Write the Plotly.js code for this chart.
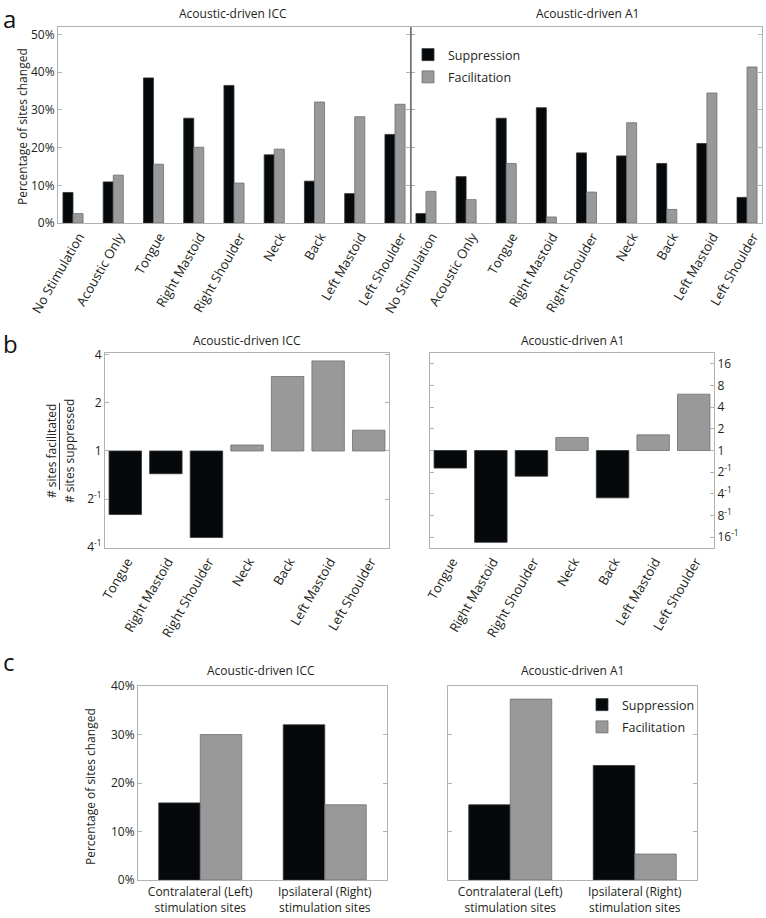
<!DOCTYPE html>
<html><head><meta charset="utf-8">
<script src="https://cdn.plot.ly/plotly-3.0.1.min.js"></script>
<style>body{margin:0;background:#fff}#chart{width:766px;height:918px}</style>
</head><body><div id="chart"></div>
<script>
// ---------- data ----------
const sitesA = ['No Stimulation','Acoustic Only','Tongue','Right Mastoid','Right Shoulder','Neck','Back','Left Mastoid','Left Shoulder'];
const iccSupA = [8.1,10.9,38.5,27.8,36.5,18.1,11.1,7.8,23.5];
const iccFacA = [2.5,12.7,15.6,20.1,10.6,19.6,32.1,28.2,31.5];
const a1SupA = [2.5,12.3,27.8,30.6,18.6,17.8,15.8,21.1,6.8];
const a1FacA = [8.4,6.2,15.8,1.6,8.2,26.6,3.6,34.5,41.4];

const sitesB = ['Tongue','Right Mastoid','Right Shoulder','Neck','Back','Left Mastoid','Left Shoulder'];
const iccRatioB = [0.40,0.72,0.287,1.09,2.93,3.67,1.35];
const a1RatioB = [0.57,0.053,0.44,1.52,0.22,1.65,6.06];

const sideC = ['Contralateral (Left)<br>stimulation sites','Ipsilateral (Right)<br>stimulation sites'];
const iccSupC = [15.9,32.0];
const iccFacC = [30.0,15.5];
const a1SupC = [15.5,23.6];
const a1FacC = [37.3,5.35];

const pctTicks = [0,10,20,30,40,50];
const pctTickText = ['0%','10%','20%','30%','40%','50%'];
const ratioTicksICC = [0.25,0.5,1,2,4];
const ratioTextICC = ['4<sup>-1</sup>','2<sup>-1</sup>','1','2','4'];
const ratioTicksA1 = [1/16,1/8,1/4,1/2,1,2,4,8,16];
const ratioTextA1 = ['16<sup>-1</sup>','8<sup>-1</sup>','4<sup>-1</sup>','2<sup>-1</sup>','1','2','4','8','16'];

// ---------- styling ----------
const W = 766, H = 918;
const FONT = 'Open Sans, Lato, sans-serif';
const TXT = '#231f20';
const BLACK = '#06090b', GRAY = '#999999';
const BLACK_LINE = '#333333', GRAY_LINE = '#6e6e6e';
const AX = '#b2b2b2';
const dx = (a,b) => [a/W, b/W];
const dy = (t,b) => [1-b/H, 1-t/H];
const px = v => v/W, py = v => 1-v/H;

function sup(x, y, xa, ya, w, off, legend, show) {
  return {type:'bar', name:'Suppression', x, y, xaxis:xa, yaxis:ya, width:w, offset:off, legendgroup:'s',
    marker:{color:BLACK, line:{color:BLACK_LINE, width:0.8}}, legend:legend, showlegend:show, hoverinfo:'y'};
}
function fac(x, y, xa, ya, w, off, legend, show) {
  return {type:'bar', name:'Facilitation', x, y, xaxis:xa, yaxis:ya, width:w, offset:off, legendgroup:'f',
    marker:{color:GRAY, line:{color:GRAY_LINE, width:0.8}}, legend:legend, showlegend:show, hoverinfo:'y'};
}
function ratioBar(x, r, xa, ya) {
  return {type:'bar', x, y:r.map(v => v-1), base:1, xaxis:xa, yaxis:ya, width:0.8,
    marker:{color:r.map(v => v<1?BLACK:GRAY), line:{color:r.map(v => v<1?BLACK_LINE:GRAY_LINE), width:0.8}},
    showlegend:false, hoverinfo:'x'};
}

const idxA = sitesA.map((_,i)=>i);
const idxB = sitesB.map((_,i)=>i);
const idxC = sideC.map((_,i)=>i);

const data = [
  sup(idxA, iccSupA, 'x', 'y', 0.25, -0.25, 'legend', false),
  fac(idxA, iccFacA, 'x', 'y', 0.25, 0, 'legend', false),
  sup(idxA, a1SupA, 'x2', 'y2', 0.25, -0.25, 'legend', true),
  fac(idxA, a1FacA, 'x2', 'y2', 0.25, 0, 'legend', true),
  ratioBar(idxB, iccRatioB, 'x3', 'y3'),
  ratioBar(idxB, a1RatioB, 'x4', 'y4'),
  sup(idxC, iccSupC, 'x5', 'y5', 1/3, -1/3, 'legend2', false),
  fac(idxC, iccFacC, 'x5', 'y5', 1/3, 0, 'legend2', false),
  sup(idxC, a1SupC, 'x6', 'y6', 1/3, -1/3, 'legend2', true),
  fac(idxC, a1FacC, 'x6', 'y6', 1/3, 0, 'legend2', true)
];

const tickFont = {family:FONT, size:12, color:TXT};
const rotFont = {family:FONT, size:13, color:TXT};
function xcat(domain, anchor, labels, range, angle, shift, font, standoff) {
  return {domain, anchor, range, tickvals:labels.map((_,i)=>i), ticktext:labels, tickangle:angle,
    ticklabelshift:shift, ticklabelstandoff:standoff,
    showline:true, mirror:true, linecolor:AX, linewidth:1, ticks:'', showgrid:false, zeroline:false,
    tickfont:font, fixedrange:true};
}
function yax(domain, anchor, extra) {
  return Object.assign({domain, anchor, showline:true, mirror:'ticks', linecolor:AX, linewidth:1,
    ticks:'inside', ticklen:4, tickcolor:AX, showgrid:false, zeroline:false, tickfont:tickFont, fixedrange:true}, extra);
}
const L2 = Math.log10(2);
const legFont = {family:FONT, size:12.5, color:TXT};
function ann(text, x, y, extra) {
  return Object.assign({text, x:px(x), y:py(y), xref:'paper', yref:'paper', xanchor:'center', yanchor:'middle',
    showarrow:false, font:{family:FONT, size:12, color:TXT}}, extra || {});
}

const layout = {
  width:W, height:H, margin:{l:0,r:0,t:0,b:0}, paper_bgcolor:'#fff', plot_bgcolor:'#fff',
  font:{family:FONT, color:TXT}, barmode:'overlay',
  xaxis: xcat(dx(58,410), 'y', sitesA, [-0.373, 8.373], -60, 6, rotFont, 0),
  yaxis: yax(dy(27,223), 'x', {range:[0,52], tickvals:pctTicks, ticktext:pctTickText}),
  xaxis2: xcat(dx(411,762), 'y2', sitesA, [-0.373, 8.373], -60, 6, rotFont, 0),
  yaxis2: yax(dy(27,223), 'x2', {range:[0,52], tickvals:pctTicks, showticklabels:false}),
  xaxis3: xcat(dx(105,389), 'y3', sitesB, [-0.5, 6.5], -60, 2, rotFont, 0),
  yaxis3: yax(dy(353,548), 'x3', {type:'log', range:[Math.log10(0.25)-0.006, Math.log10(4)+0.012], tickvals:ratioTicksICC, ticktext:ratioTextICC}),
  xaxis4: xcat(dx(430,714), 'y4', sitesB, [-0.5, 6.5], -60, 2, rotFont, 0),
  yaxis4: yax(dy(353,548), 'x4', {type:'log', side:'right', range:[-4.5*L2, 4.5*L2], tickvals:ratioTicksA1, ticktext:ratioTextA1}),
  xaxis5: xcat(dx(138,387), 'y5', sideC, [-0.5, 1.5], 0, 0, tickFont, 1),
  yaxis5: yax(dy(686,880), 'x5', {range:[0,40], tickvals:pctTicks.slice(0,5), ticktext:pctTickText.slice(0,5)}),
  xaxis6: xcat(dx(448,697), 'y6', sideC, [-0.5, 1.5], 0, 0, tickFont, 1),
  yaxis6: yax(dy(686,880), 'x6', {range:[0,40], tickvals:pctTicks.slice(0,5), showticklabels:false}),
  legend: {x:px(408), y:py(40), xanchor:'left', yanchor:'top', bgcolor:'rgba(0,0,0,0)', font:legFont, traceorder:'grouped', tracegroupgap:3},
  legend2: {x:px(582), y:py(690), xanchor:'left', yanchor:'top', bgcolor:'rgba(0,0,0,0)', font:legFont, traceorder:'grouped', tracegroupgap:3},
  shapes: [
    {type:'line', xref:'paper', yref:'paper', x0:px(411), x1:px(411), y0:py(223), y1:py(27), line:{color:'#333', width:1}},
    {type:'line', xref:'paper', yref:'paper', x0:px(59.5), x1:px(59.5), y0:py(403), y1:py(490), line:{color:'#333', width:1}}
  ],
  annotations: [
    ann('a', 1, 0, {xanchor:'left', yanchor:'top', font:{family:FONT, size:24, color:'#111'}}),
    ann('b', 1, 325, {xanchor:'left', yanchor:'top', font:{family:FONT, size:24, color:'#111'}}),
    ann('c', 1, 643, {xanchor:'left', yanchor:'top', font:{family:FONT, size:24, color:'#111'}}),
    ann('Acoustic-driven ICC', 233, 13),
    ann('Acoustic-driven A1', 587, 13),
    ann('Acoustic-driven ICC', 247, 340),
    ann('Acoustic-driven A1', 572, 340),
    ann('Acoustic-driven ICC', 261, 670),
    ann('Acoustic-driven A1', 572, 670),
    ann('Percentage of sites changed', 22, 127, {textangle:-90}),
    ann('Percentage of sites changed', 90, 787, {textangle:-90}),
    ann('# sites facilitated', 51, 451, {textangle:-90}),
    ann('# sites suppressed', 69, 451, {textangle:-90})
  ]
};

Plotly.newPlot('chart', data, layout, {displayModeBar:false, staticPlot:true});
</script>
</body></html>
